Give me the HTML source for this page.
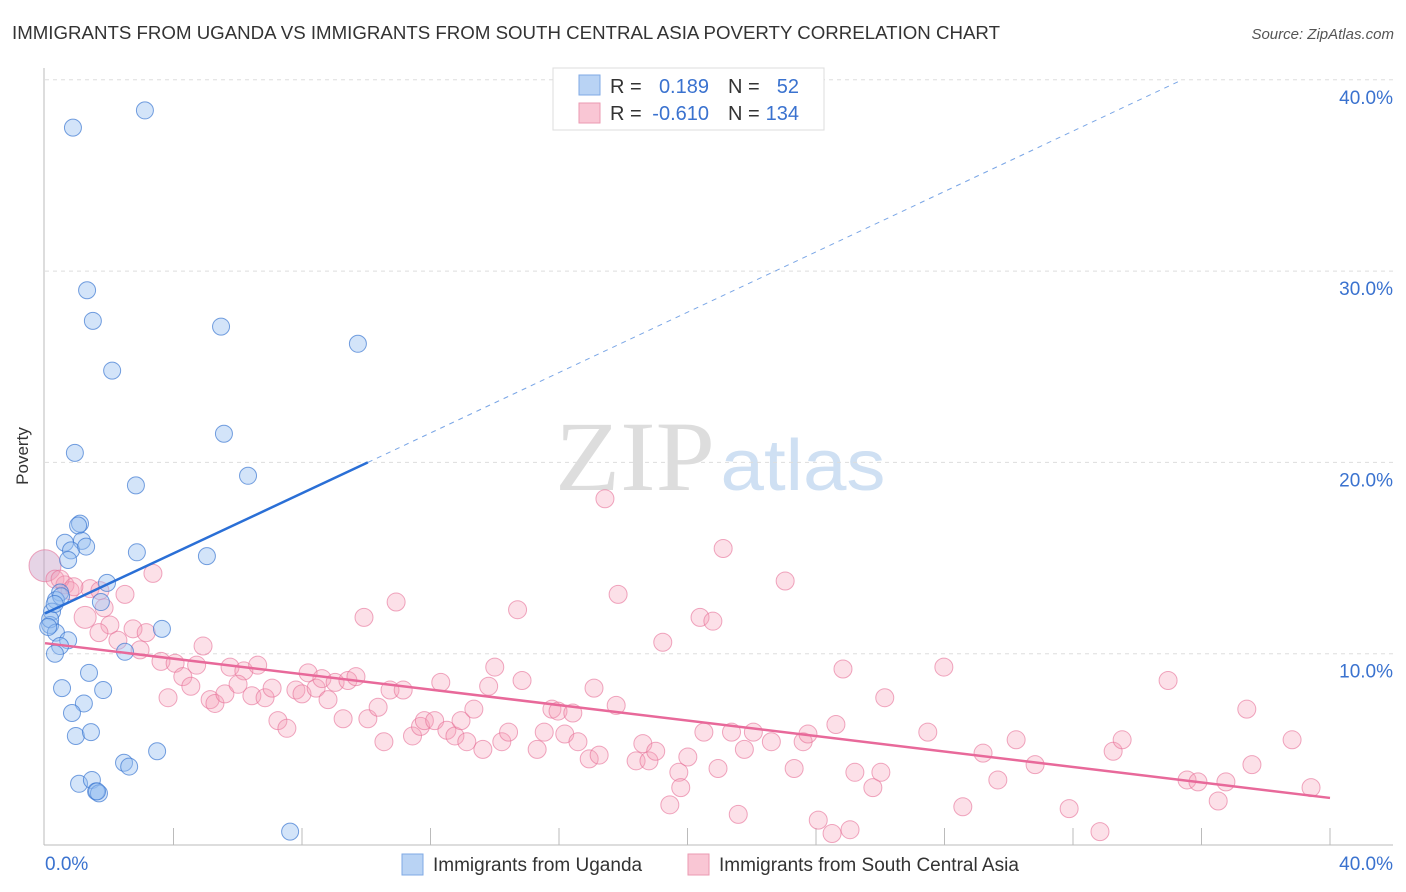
<!DOCTYPE html>
<html><head><meta charset="utf-8"><style>
body{margin:0;background:#fff;font-family:"Liberation Sans",sans-serif;}
svg{display:block}
</style></head><body>
<svg id="chart" width="1406" height="892">
<text x="12" y="39" font-size="18" fill="#333" textLength="988" lengthAdjust="spacingAndGlyphs">IMMIGRANTS FROM UGANDA VS IMMIGRANTS FROM SOUTH CENTRAL ASIA POVERTY CORRELATION CHART</text>
<text x="1394" y="39" font-size="15" fill="#555" font-style="italic" text-anchor="end">Source: ZipAtlas.com</text>
<text x="28" y="456" font-size="17" fill="#333" text-anchor="middle" transform="rotate(-90 28 456)">Poverty</text>
<g><text x="635" y="490" font-size="100" fill="#ddd" font-family="Liberation Serif,serif" text-anchor="middle" textLength="160" lengthAdjust="spacingAndGlyphs">ZIP</text><text x="803" y="490" font-size="72" fill="#cfe0f3" text-anchor="middle" textLength="165" lengthAdjust="spacingAndGlyphs">atlas</text></g>
<g id="grid"></g>
<g id="axes"></g>
<g id="pts"></g>
<g id="trend"></g>
<g>
<rect x="553" y="68" width="271" height="62" fill="#fff" stroke="#ddd"/>
<rect x="579" y="75" width="21" height="20" fill="#b9d3f4" stroke="#7fa9e4"/>
<rect x="579" y="103" width="21" height="20" fill="#f9c6d4" stroke="#eb9ab2"/>
<text x="610" y="93" font-size="20" fill="#333">R =</text><text x="709" y="93" font-size="20" fill="#3a72cf" text-anchor="end">0.189</text>
<text x="728" y="93" font-size="20" fill="#333">N =</text><text x="799" y="93" font-size="20" fill="#3a72cf" text-anchor="end">52</text>
<text x="610" y="120" font-size="20" fill="#333">R =</text><text x="709" y="120" font-size="20" fill="#3a72cf" text-anchor="end">-0.610</text>
<text x="728" y="120" font-size="20" fill="#333">N =</text><text x="799" y="120" font-size="20" fill="#3a72cf" text-anchor="end">134</text>
</g>
<g>
<rect x="402" y="854" width="21" height="21" fill="#b9d3f4" stroke="#7fa9e4"/>
<text x="433" y="871" font-size="19" fill="#333">Immigrants from Uganda</text>
<rect x="688" y="854" width="21" height="21" fill="#f9c6d4" stroke="#eb9ab2"/>
<text x="719" y="871" font-size="19" fill="#333">Immigrants from South Central Asia</text>
</g>
</svg>
<script>
const yTicks=[10,20,30,40];
const yTickLabels=["10.0%","20.0%","30.0%","40.0%"];
const ugX=[0.87,3.11,1.31,1.49,5.48,9.74,2.09,5.57,0.93,6.32,2.83,1.09,1.03,0.62,1.15,0.81,1.28,0.72,2.86,5.04,1.93,0.47,1.74,0.34,0.22,0.16,0.16,0.34,0.72,3.64,0.47,0.31,2.49,1.37,0.53,1.81,1.21,0.84,0.96,1.43,3.49,2.46,2.62,1.06,1.46,1.59,1.68,1.62,7.63,0.5,0.3,0.1];
const ugY=[37.5,38.4,29.0,27.4,27.1,26.2,24.8,21.5,20.5,19.3,18.8,16.8,16.7,15.8,15.9,15.4,15.6,14.9,15.3,15.1,13.7,13.2,12.7,12.8,12.2,11.5,11.8,11.1,10.7,11.3,10.4,10.0,10.1,9.0,8.2,8.1,7.4,6.9,5.7,5.9,4.9,4.3,4.1,3.2,3.4,2.8,2.7,2.8,0.7,13.0,12.6,11.4];
const scX=[0,0.31,0.62,0.78,1.40,1.71,0.47,1.25,2.49,3.36,1.84,2.02,1.68,2.74,3.15,2.96,2.27,4.92,3.61,4.05,4.72,4.29,4.54,3.83,5.14,5.29,5.60,5.76,6.19,6.62,6.01,6.44,6.85,7.07,7.25,7.53,7.81,8.00,8.19,8.44,8.62,8.81,9.03,9.43,9.68,9.28,10.05,10.37,9.93,10.93,10.74,11.15,10.55,11.44,11.69,11.81,12.13,12.32,12.51,12.76,12.95,13.13,13.35,13.63,13.81,14.00,14.22,14.43,14.71,14.85,15.32,15.54,15.78,15.97,16.18,16.43,16.59,16.94,17.09,17.25,17.43,17.78,17.84,18.40,18.61,18.80,19.01,19.23,19.45,19.73,19.79,20.01,20.39,20.79,20.51,20.95,21.11,21.58,21.37,21.77,22.05,22.61,23.04,23.32,23.60,23.75,24.07,24.50,24.62,24.84,25.06,25.21,25.77,26.02,26.14,27.48,27.98,28.57,29.20,29.66,30.23,30.82,31.88,32.84,33.25,33.53,34.96,35.55,35.89,36.52,36.76,37.41,37.57,38.82,39.41,0.9];
const scY=[14.6,13.9,13.6,13.3,13.4,13.3,13.9,11.9,13.1,14.2,12.4,11.5,11.1,11.3,11.1,10.2,10.7,10.4,9.6,9.5,9.4,8.8,8.3,7.7,7.6,7.4,7.9,9.3,9.1,9.4,8.4,7.8,7.7,8.2,6.5,6.1,8.1,7.9,9.0,8.2,8.7,7.6,8.5,8.6,8.8,6.6,6.6,7.2,11.9,12.7,8.1,8.1,5.4,5.7,6.2,6.5,6.5,8.5,6.0,5.7,6.5,5.4,7.1,5.0,8.3,9.3,5.4,5.9,12.3,8.6,5.0,5.9,7.1,7.0,5.8,6.9,5.4,4.5,8.2,4.7,18.1,7.3,13.1,4.4,5.3,4.4,4.9,10.6,2.1,3.8,3.0,4.6,11.9,11.7,5.9,4.0,15.5,1.6,5.9,5.0,5.9,5.4,13.8,4.0,5.4,5.8,1.3,0.6,6.3,9.2,0.8,3.8,3.0,3.8,7.7,5.9,9.3,2.0,4.8,3.4,5.5,4.2,1.9,0.7,4.9,5.5,8.6,3.4,3.3,2.3,3.3,7.1,4.2,5.5,3.0,13.5];
const ugTrend=[12.1,20.0,40.0];
const ugTrendX=[0,10.05,35.4];
const scTrend=[10.55,2.46];

const NS="http://www.w3.org/2000/svg";
const X=v=>45+v*1285/40, Y=v=>845-v*19.13;
function mk(tag,attrs,parent){const e=document.createElementNS(NS,tag);for(const k in attrs)e.setAttribute(k,attrs[k]);document.getElementById(parent).appendChild(e);return e;}
yTicks.forEach((t,i)=>{
 const l=mk('line',{x1:45,x2:1393,y1:Y(t),y2:Y(t),stroke:'#ddd','stroke-dasharray':'4,4'},'grid');
 
 
 const tx=mk('text',{x:1393,y:Y(t)+24,'font-size':19,fill:'#3a72cf','text-anchor':'end'},'grid');
 tx.textContent=yTickLabels[i];
 
 
});
const ax=mk('line',{x1:44,x2:44,y1:68,y2:845,stroke:'#bbb'},'axes');


const bx=mk('line',{x1:44,x2:1393,y1:845,y2:845,stroke:'#bbb'},'axes');


for(let i=1;i<=10;i++){const t=mk('line',{x1:X(i*4),x2:X(i*4),y1:828,y2:845,stroke:'#bbb'},'axes');
 
 }
const xl0=mk('text',{x:45,y:870,'font-size':19,fill:'#3a72cf'},'axes');xl0.textContent='0.0%';


const xl1=mk('text',{x:1393,y:870,'font-size':19,fill:'#3a72cf','text-anchor':'end'},'axes');xl1.textContent='40.0%';


scX.forEach((v,i)=>{const c=mk('circle',{cx:X(v),cy:Y(scY[i]),r:i==0?16:(i==7?11:9),fill:i==0?'rgba(200,160,200,0.45)':'rgba(245,160,185,0.32)',stroke:'rgba(230,110,150,0.6)','stroke-width':1},'pts');
 
 });
ugX.forEach((v,i)=>{const c=mk('circle',{cx:X(v),cy:Y(ugY[i]),r:8.5,fill:'rgba(150,190,240,0.42)',stroke:'rgba(60,120,210,0.7)','stroke-width':1},'pts');
 
 });
const t1=mk('line',{x1:X(ugTrendX[0]),y1:Y(ugTrend[0]),x2:X(ugTrendX[1]),y2:Y(ugTrend[1]),stroke:'#2a6fd6','stroke-width':2.5},'trend');


const t2=mk('line',{x1:X(ugTrendX[1]),y1:Y(ugTrend[1]),x2:X(ugTrendX[2]),y2:Y(ugTrend[2]),stroke:'#7aa6e6','stroke-width':1,'stroke-dasharray':'5,5'},'trend');


const t3=mk('line',{x1:X(0),y1:Y(scTrend[0]),x2:X(40),y2:Y(scTrend[1]),stroke:'#e8699a','stroke-width':2.5},'trend');


</script>
</body></html>
